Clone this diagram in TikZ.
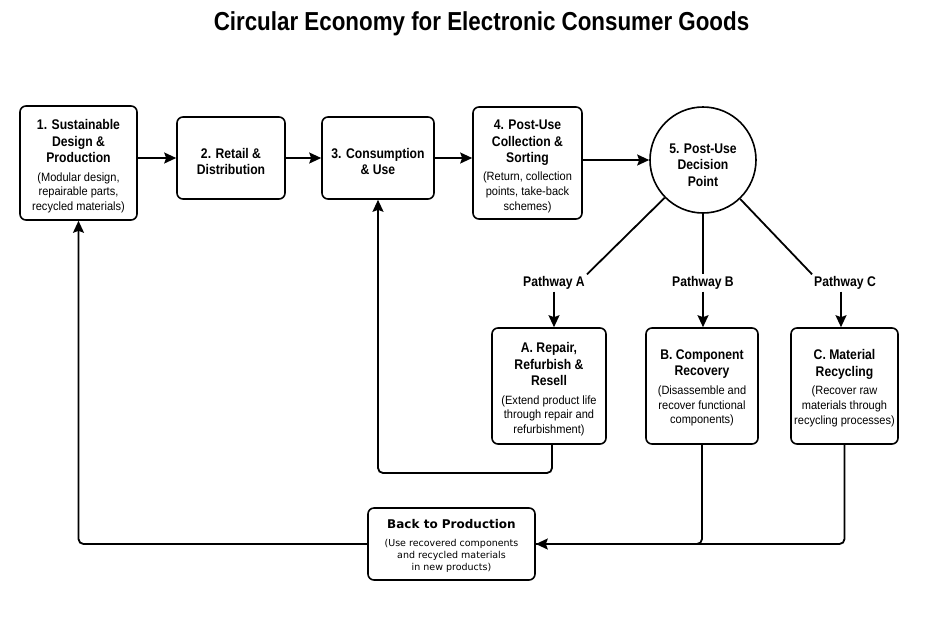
\documentclass[tikz,border=0pt]{standalone}
\usepackage{fontspec}
\setmainfont{Liberation Sans}
\newfontfamily\hdfont[FakeStretch=0.87]{Liberation Sans}
\newfontfamily\sbfont[FakeStretch=0.92]{Liberation Sans}
\newfontfamily\ttlfont[FakeStretch=0.86]{Liberation Sans}
\newfontfamily\dvfont{DejaVu Sans}
\usetikzlibrary{arrows.meta}
\newcommand{\down}[2]{\raisebox{-#1}[\height][\depth]{#2}}
\newcommand{\hdsb}[3]{\parbox{#1}{\centering\hdfont\bfseries\fontsize{14}{16.5}\selectfont #2\par\vspace{3.5pt}\sbfont\mdseries\fontsize{12}{14.8}\selectfont #3\par}}
\newcommand{\hdonly}[2]{\parbox{#1}{\centering\hdfont\bfseries\fontsize{14}{16.5}\selectfont #2\par}}
\tikzset{
  box/.style={draw, line width=1.6pt, rounded corners=6pt, inner sep=0pt, align=center, fill=white},
  ln/.style={line width=1.8pt},
  arr/.style={line width=1.8pt, -{Stealth[length=12pt,width=11pt,inset=2pt]}},
  plabel/.style={font=\hdfont\bfseries\fontsize{14}{16}\selectfont, inner sep=2pt}
}
\begin{document}
\begin{tikzpicture}[x=1pt,y=-1pt]
\fill[white] (0,0) rectangle (939,625);
\useasboundingbox (0,0) rectangle (939,625);

\node[font=\ttlfont\bfseries\fontsize{26}{30}\selectfont] (title) at (481.5,24) {Circular Economy for Electronic Consumer Goods};

\node[box, minimum width=117pt, minimum height=114pt] (b1) at (78.5,163)
  {\down{3.5pt}{\hdsb{113pt}{1. Sustainable\\Design \&\\Production}{(Modular design,\\repairable parts,\\recycled materials)}}};
\node[box, minimum width=108pt, minimum height=82pt] (b2) at (231,158)
  {\down{3.5pt}{\hdonly{104pt}{2. Retail \&\\Distribution}}};
\node[box, minimum width=112pt, minimum height=82pt] (b3) at (378,158)
  {\down{3.5pt}{\hdonly{108pt}{3. Consumption\\\& Use}}};
\node[box, minimum width=109pt, minimum height=112pt] (b4) at (527.5,163)
  {\down{3.5pt}{\hdsb{105pt}{4. Post-Use\\Collection \&\\Sorting}{(Return, collection\\points, take-back\\schemes)}}};
\node[draw, circle, line width=1.6pt, minimum size=106pt, inner sep=0pt, align=center] (c5) at (703,160)
  {\down{5pt}{\hdonly{90pt}{5. Post-Use\\Decision\\Point}}};

\node[plabel] (pA) at (554,283) {Pathway A};
\node[plabel] (pB) at (703,283) {Pathway B};
\node[plabel] (pC) at (845,283) {Pathway C};

\node[box, minimum width=114pt, minimum height=116pt] (bA) at (549,386)
  {\down{3.5pt}{\hdsb{110pt}{A. Repair,\\Refurbish \&\\Resell}{(Extend product life\\through repair and\\refurbishment)}}};
\node[box, minimum width=112pt, minimum height=116pt] (bB) at (702,386)
  {\down{2pt}{\hdsb{108pt}{B. Component\\Recovery}{(Disassemble and\\recover functional\\components)}}};
\node[box, minimum width=107pt, minimum height=116pt] (bC) at (844.5,386)
  {\down{2pt}{\hdsb{104pt}{C. Material\\Recycling}{(Recover raw\\materials through\\recycling processes)}}};

\node[box, minimum width=167pt, minimum height=72pt] (back) at (451.5,544)
  {\down{2pt}{\parbox{163pt}{\centering\dvfont\bfseries\fontsize{12}{14}\selectfont Back to Production\par\vspace{6pt}\mdseries\fontsize{9.5}{12}\selectfont (Use recovered components\\and recycled materials\\in new products)\par}}};

% main flow
\draw[arr] (b1.east |- b2) -- (b2.west);
\draw[arr] (b2) -- (b3);
\draw[arr] (b3.east) -- (b4.west |- b3);
\draw[arr] (b4.east |- c5) -- (c5);

% pathways
\draw[ln] (c5) -- (pA.north east);
\draw[ln] (c5) -- (pB.north);
\draw[ln] (c5) -- (pC.north west);
\draw[arr] (pA.south) -- (pA.south |- bA.north);
\draw[arr] (pB.south) -- (pB.south |- bB.north);
\draw[arr] (pC.south -| 841,0) -- (841,0 |- bC.north);

% returns
\coordinate (lA) at (552,473);
\draw[arr, rounded corners=5pt] (bA.south -| lA) |- (b3.south |- lA) -- (b3.south);
\draw[arr, rounded corners=5pt] (bC.south) |- (back.east);
\draw[ln, rounded corners=5pt] (bB.south) |- (back.east);
\draw[arr, rounded corners=5pt] (back.west) -| (b1.south);
\end{tikzpicture}
\end{document}
